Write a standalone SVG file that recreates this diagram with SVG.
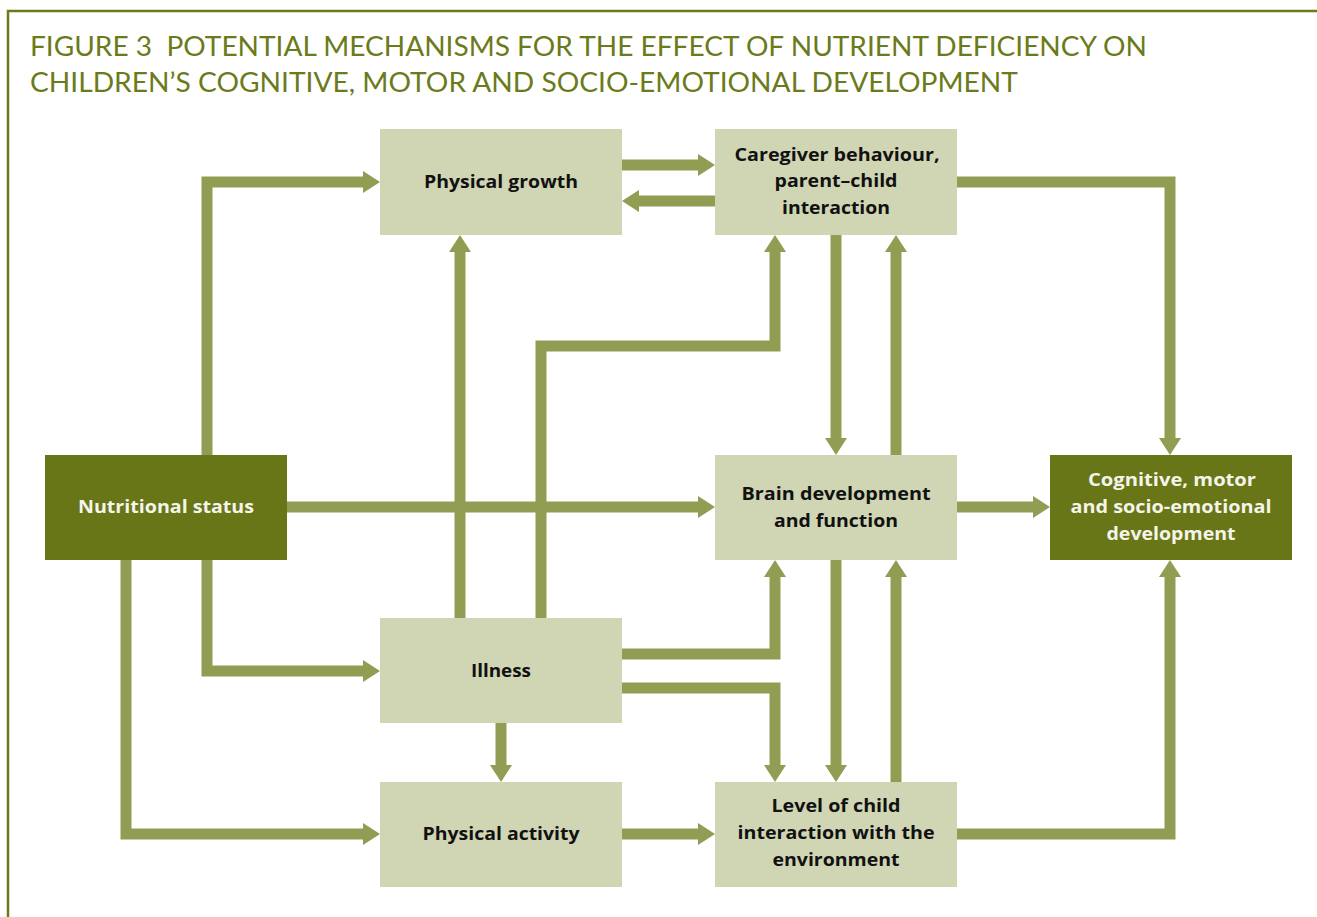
<svg xmlns="http://www.w3.org/2000/svg" width="1317" height="917" viewBox="0 0 1317 917">
<defs>
<style>
.frame{fill:none;stroke:#6b7a1b;stroke-width:2.5}
.title{font-family:Lato,"Open Sans","Liberation Sans",sans-serif;font-size:27px;fill:#6b7a1b;white-space:pre}
.light{fill:#d0d5b3}
.dark{fill:#687617}
.lbl{font-family:"Open Sans","Liberation Sans",sans-serif;font-weight:bold;font-size:18px;text-anchor:middle;fill:#111}
.lblw{font-family:"Open Sans","Liberation Sans",sans-serif;font-weight:bold;font-size:18px;text-anchor:middle;fill:#f4f4ea}
.conn{fill:none;stroke:#909d53;stroke-width:11;marker-end:url(#ah)}
</style>
<marker id="ah" viewBox="0 0 17 22" refX="1" refY="11" markerWidth="17" markerHeight="22" markerUnits="userSpaceOnUse" orient="auto">
<path d="M0,0 L17,11 L0,22 Z" fill="#909d53"/>
</marker>
</defs>
<rect width="1317" height="917" fill="#ffffff"/>
<path class="frame" d="M8,917 V11 H1317"/>
<text class="title" x="30" y="56" textLength="1117" lengthAdjust="spacingAndGlyphs" xml:space="preserve">FIGURE 3  POTENTIAL MECHANISMS FOR THE EFFECT OF NUTRIENT DEFICIENCY ON</text>
<text class="title" x="30" y="92" textLength="988" lengthAdjust="spacingAndGlyphs">CHILDREN’S COGNITIVE, MOTOR AND SOCIO-EMOTIONAL DEVELOPMENT</text>

<g id="connectors">
<path class="conn" d="M207,455 V182 H364"/>
<path class="conn" d="M207,560 V671 H364"/>
<path class="conn" d="M126,560 V834 H364"/>
<path class="conn" d="M287,507 H699"/>
<path class="conn" d="M622,165 H699"/>
<path class="conn" d="M715,201 H638"/>
<path class="conn" d="M957,182 H1170 V439"/>
<path class="conn" d="M836,235 V439"/>
<path class="conn" d="M896,455 V251"/>
<path class="conn" d="M460,618 V251"/>
<path class="conn" d="M541,618 V346 H775 V251"/>
<path class="conn" d="M622,654 H775 V576"/>
<path class="conn" d="M622,688 H775 V766"/>
<path class="conn" d="M501,723 V766"/>
<path class="conn" d="M836,560 V766"/>
<path class="conn" d="M896,782 V576"/>
<path class="conn" d="M957,507 H1034"/>
<path class="conn" d="M622,834 H699"/>
<path class="conn" d="M957,834 H1170 V576"/>
</g>

<g id="physical-growth">
<rect class="light" x="380" y="129" width="242" height="106"/>
<text class="lbl" x="501" y="188" textLength="154" lengthAdjust="spacingAndGlyphs">Physical growth</text>
</g>
<g id="caregiver">
<rect class="light" x="715" y="129" width="242" height="106"/>
<text class="lbl" x="837" y="161" textLength="205" lengthAdjust="spacingAndGlyphs">Caregiver behaviour,</text>
<text class="lbl" x="836" y="187" textLength="123" lengthAdjust="spacingAndGlyphs">parent–child</text>
<text class="lbl" x="836" y="214" textLength="108" lengthAdjust="spacingAndGlyphs">interaction</text>
</g>
<g id="nutritional-status">
<rect class="dark" x="45" y="455" width="242" height="105"/>
<text class="lblw" x="166" y="513" textLength="176" lengthAdjust="spacingAndGlyphs">Nutritional status</text>
</g>
<g id="brain">
<rect class="light" x="715" y="455" width="242" height="105"/>
<text class="lbl" x="836" y="500" textLength="189" lengthAdjust="spacingAndGlyphs">Brain development</text>
<text class="lbl" x="836" y="527" textLength="124" lengthAdjust="spacingAndGlyphs">and function</text>
</g>
<g id="cognitive">
<rect class="dark" x="1050" y="455" width="242" height="105"/>
<text class="lblw" x="1172" y="486" textLength="168" lengthAdjust="spacingAndGlyphs">Cognitive, motor</text>
<text class="lblw" x="1171" y="513" textLength="201" lengthAdjust="spacingAndGlyphs">and socio-emotional</text>
<text class="lblw" x="1171" y="540" textLength="129" lengthAdjust="spacingAndGlyphs">development</text>
</g>
<g id="illness">
<rect class="light" x="380" y="618" width="242" height="105"/>
<text class="lbl" x="501" y="677" textLength="60" lengthAdjust="spacingAndGlyphs">Illness</text>
</g>
<g id="physical-activity">
<rect class="light" x="380" y="782" width="242" height="105"/>
<text class="lbl" x="501" y="840" textLength="157" lengthAdjust="spacingAndGlyphs">Physical activity</text>
</g>
<g id="level-interaction">
<rect class="light" x="715" y="782" width="242" height="105"/>
<text class="lbl" x="836" y="812" textLength="129" lengthAdjust="spacingAndGlyphs">Level of child</text>
<text class="lbl" x="836" y="839" textLength="197" lengthAdjust="spacingAndGlyphs">interaction with the</text>
<text class="lbl" x="836" y="866" textLength="127" lengthAdjust="spacingAndGlyphs">environment</text>
</g>
</svg>
